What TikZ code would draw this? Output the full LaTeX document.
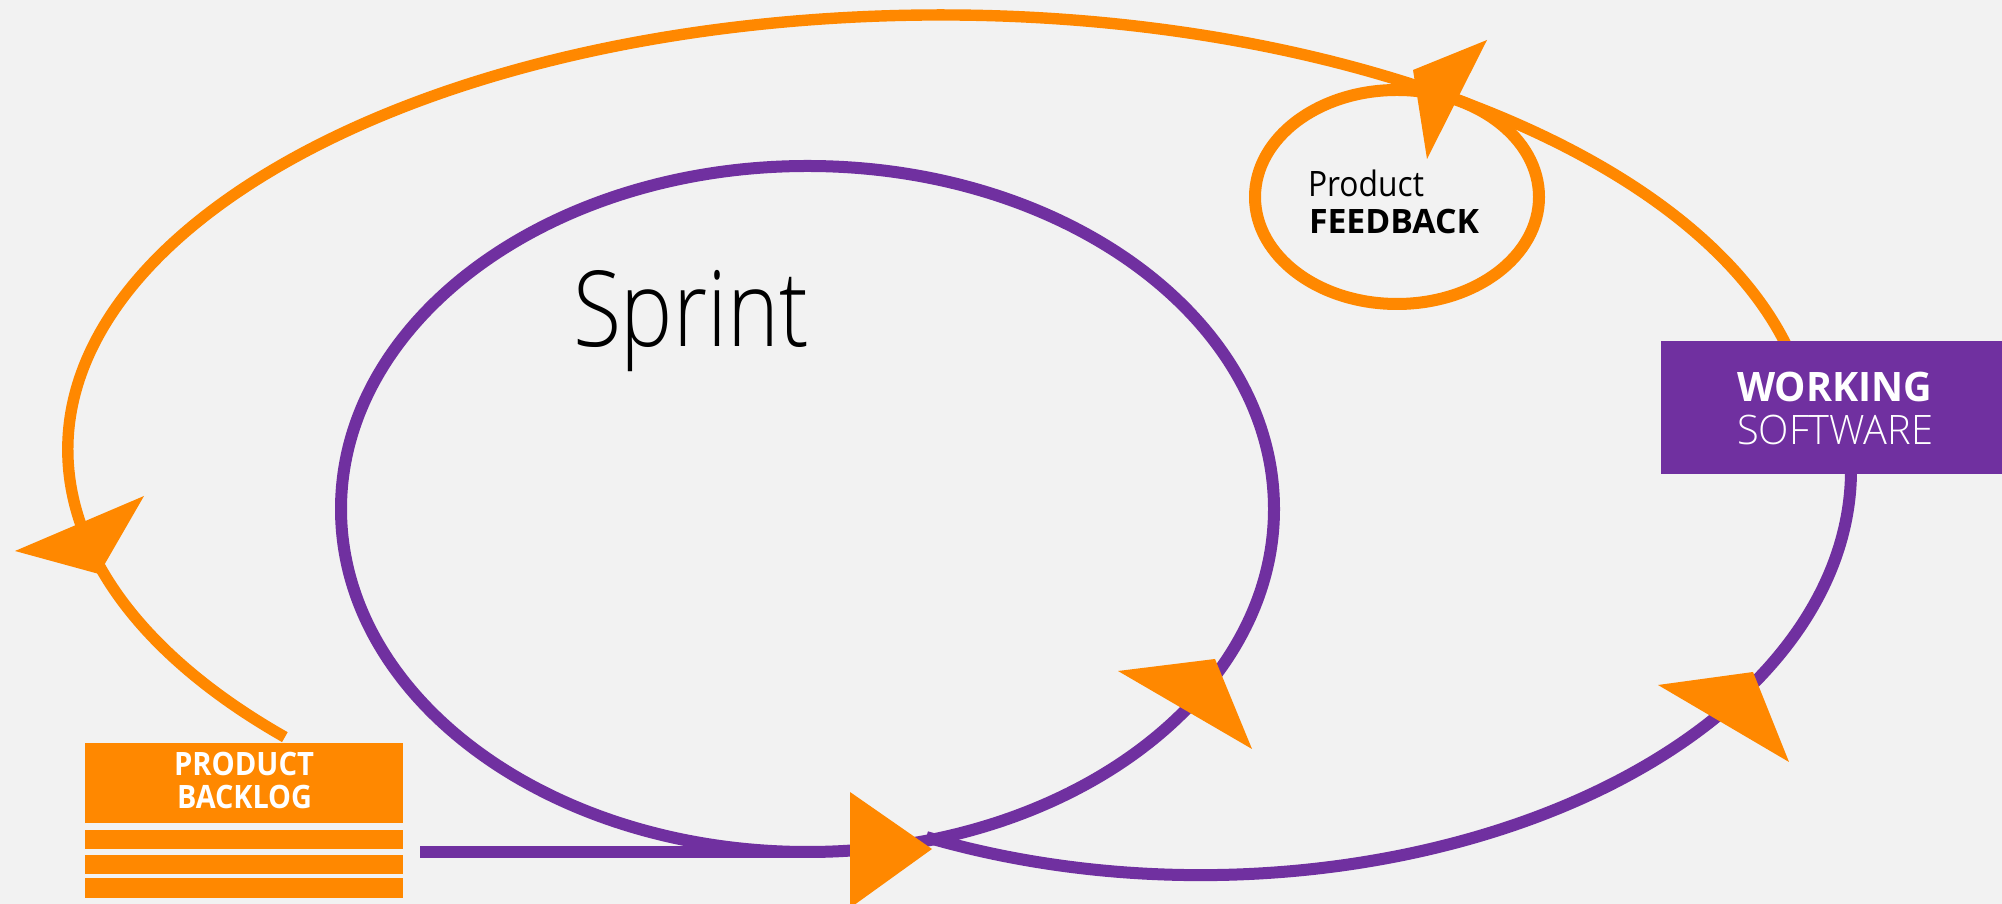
\documentclass[tikz,border=0pt]{standalone}
\usepackage{fontspec}
\usepackage{graphicx}
\setmainfont{Open Sans}
\newfontfamily\lightfont{Open Sans Light}
\definecolor{bg}{HTML}{F2F2F2}
\definecolor{scpurple}{HTML}{7030A0}
\definecolor{scorange}{HTML}{FF8800}
\newcommand\fitw[2]{\resizebox{#1}{\height}{#2}}
\begin{document}
\begin{tikzpicture}[x=0.5pt,y=0.5pt,
  flowp/.style={draw=scpurple,line width=6pt},
  flowo/.style={draw=scorange,line width=5.7pt},
  tiptri/.style={fill=scorange},
  lbl/.style={anchor=base west,inner sep=0pt,outer sep=0pt},
  boxnode/.style={anchor=south west,inner sep=0pt,outer sep=0pt}]
\fill[bg] (0,0) rectangle (2002,904);
\useasboundingbox (0,0) rectangle (2002,904);

% named points
\coordinate (oStart) at (1798.7,529.5);
\coordinate (pStart) at (926.3,66.9);
\coordinate (lineStart) at (420,52);
\coordinate (sprintC) at (807.5,395);
\coordinate (fbC) at (1397,707);

% orange outer cycle (working software -> feedback -> backlog)
\draw[flowo] (oStart) arc[start angle=10,end angle=221.3,x radius=872,y radius=435];
% purple outer path (sprint -> working software)
\draw[flowp] (pStart) arc[start angle=245,end angle=370,x radius=650,y radius=405];
% sprint loop
\draw[flowp] (sprintC) ellipse[x radius=466.5,y radius=343];
\draw[flowp] (lineStart) -- (807.5,52);
% product feedback
\draw[scorange,line width=6pt] (fbC) ellipse[x radius=142,y radius=107];

% boxes
\node[boxnode,fill=scpurple,minimum width=170.5pt,minimum height=66.5pt] (ws) at (1661,430) {};
\node[boxnode,fill=scorange,minimum width=159pt,minimum height=40pt] (pb) at (85,81) {};
\node[boxnode,fill=scorange,minimum width=159pt,minimum height=9.5pt] (pbs1) at (85,55) {};
\node[boxnode,fill=scorange,minimum width=159pt,minimum height=9.5pt] (pbs2) at (85,30) {};
\node[boxnode,fill=scorange,minimum width=159pt,minimum height=10pt] (pbs3) at (85,6) {};

% texts
\node[lbl] (sprinttxt) at (573,557) {\lightfont\fontsize{52.5}{60}\selectfont\fitw{118pt}{Sprint}};
\node[lbl] (fb1) at (1308,707) {\fontsize{17.5}{20}\selectfont\fitw{58pt}{Product}};
\node[lbl] (fb2) at (1309,670) {\fontsize{16.8}{20}\selectfont\bfseries\fitw{85pt}{FEEDBACK}};
\node[lbl,text=white] (ws1) at (1737,502) {\fontsize{20.3}{24}\selectfont\bfseries\fitw{97.5pt}{WORKING}};
\node[lbl,text=white] (ws2) at (1737,459) {\lightfont\fontsize{20.3}{24}\selectfont\fitw{98pt}{SOFTWARE}};
\node[lbl,text=white] (pb1) at (174,128) {\fontsize{16.1}{20}\selectfont\bfseries\fitw{70pt}{PRODUCT}};
\node[lbl,text=white] (pb2) at (177,95) {\fontsize{16.1}{20}\selectfont\bfseries\fitw{67.5pt}{BACKLOG}};

% arrowheads
\fill[tiptri] (1413,834) -- (1487,864) -- (1427,745) -- cycle;
\fill[tiptri] (15,353) -- (144,408) -- (99,330) -- cycle;
\fill[tiptri] (1118,233) -- (1215,245) -- (1252,155) -- cycle;
\fill[tiptri] (1658,219) -- (1753,232) -- (1789,142) -- cycle;
\fill[tiptri] (850,112) -- (932,55) -- (850,-4) -- cycle;
\end{tikzpicture}
\end{document}
